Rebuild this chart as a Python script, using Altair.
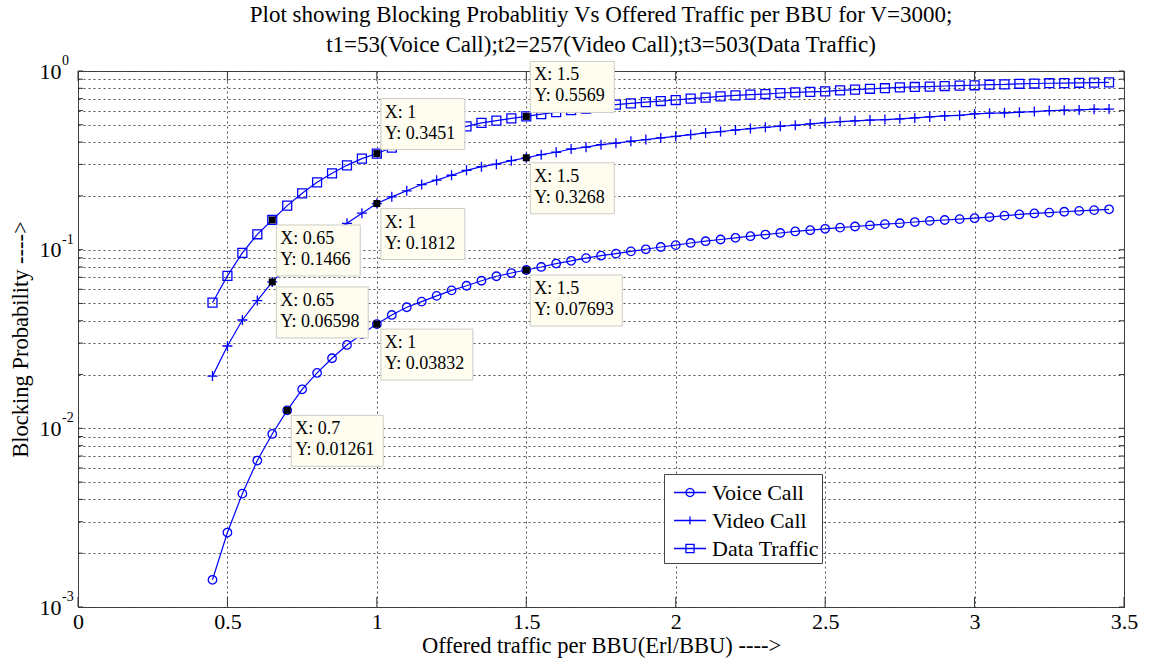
import math
import altair as alt
import pandas as pd

# ---------------- data ----------------
x_vals = [0.45, 0.50, 0.55, 0.60, 0.65, 0.70, 0.75, 0.80, 0.85, 0.90,
          0.95, 1.00, 1.05, 1.10, 1.15, 1.20, 1.25, 1.30, 1.35, 1.40,
          1.45, 1.50, 1.55, 1.60, 1.65, 1.70, 1.75, 1.80, 1.85, 1.90,
          1.95, 2.00, 2.05, 2.10, 2.15, 2.20, 2.25, 2.30, 2.35, 2.40,
          2.45, 2.50, 2.55, 2.60, 2.65, 2.70, 2.75, 2.80, 2.85, 2.90,
          2.95, 3.00, 3.05, 3.10, 3.15, 3.20, 3.25, 3.30, 3.35, 3.40,
          3.45]

voice = [0.00142, 0.00261, 0.00431, 0.00660, 0.00930, 0.01261, 0.01654, 0.02042, 0.02468, 0.02929,
         0.0337, 0.03832, 0.0431, 0.0476, 0.0512, 0.0551, 0.0592, 0.0628, 0.0670, 0.0710,
         0.0740, 0.07693, 0.0800, 0.0836, 0.0866, 0.0897, 0.0925, 0.0950, 0.0978, 0.1005,
         0.1035, 0.1060, 0.1090, 0.1115, 0.1140, 0.1165, 0.1190, 0.1215, 0.1240, 0.1265,
         0.1285, 0.1308, 0.1328, 0.1348, 0.1368, 0.1390, 0.1406, 0.1428, 0.1450, 0.1466,
         0.1482, 0.1500, 0.1522, 0.1550, 0.1575, 0.1595, 0.1612, 0.1630, 0.1648, 0.1665,
         0.1682]

video = [0.0196, 0.0289, 0.0404, 0.0519, 0.06598, 0.0800, 0.0945, 0.1095, 0.1250, 0.1405,
         0.1600, 0.1812, 0.1975, 0.2135, 0.2315, 0.2450, 0.2610, 0.2780, 0.2915, 0.3010,
         0.3150, 0.3268, 0.3400, 0.3510, 0.3660, 0.3745, 0.3870, 0.3945, 0.4045, 0.4130,
         0.4220, 0.4310, 0.4405, 0.4500, 0.4580, 0.4675, 0.4760, 0.4840, 0.4905, 0.4970,
         0.5055, 0.5145, 0.5210, 0.5260, 0.5310, 0.5350, 0.5400, 0.5465, 0.5535, 0.5605,
         0.5650, 0.5750, 0.5800, 0.5830, 0.5875, 0.5930, 0.6005, 0.6030, 0.6055, 0.6110,
         0.6120]

data_traffic = [0.0505, 0.0713, 0.0960, 0.1219, 0.1466, 0.1764, 0.2067, 0.2382, 0.2675, 0.2965,
                0.3231, 0.3451, 0.3720, 0.3970, 0.4210, 0.4440, 0.4660, 0.4900, 0.5120, 0.5280,
                0.5430, 0.5569, 0.5731, 0.5886, 0.6032, 0.6164, 0.6294, 0.6480, 0.6590, 0.6700,
                0.6790, 0.6880, 0.7000, 0.7090, 0.7210, 0.7300, 0.7370, 0.7430, 0.7530, 0.7590,
                0.7640, 0.7690, 0.7790, 0.7860, 0.7950, 0.8010, 0.8090, 0.8140, 0.8180, 0.8240,
                0.8280, 0.8320, 0.8380, 0.8410, 0.8480, 0.8510, 0.8540, 0.8560, 0.8590, 0.8610,
                0.8640]

series_names = ["Voice Call", "Video Call", "Data Traffic"]

# data tips
tip_x = [0.7, 1, 1.5, 0.65, 1, 1.5, 0.65, 1, 1.5]
tip_y = [0.01261, 0.03832, 0.07693, 0.06598, 0.1812, 0.3268, 0.1466, 0.3451, 0.5569]
tip_xlab = ["0.7", "1", "1.5", "0.65", "1", "1.5", "0.65", "1", "1.5"]
tip_ylab = ["0.01261", "0.03832", "0.07693", "0.06598", "0.1812", "0.3268", "0.1466", "0.3451", "0.5569"]
tip_above = [False, False, False, False, False, False, False, True, True]

# axes ticks
x_ticks = [0, 0.5, 1, 1.5, 2, 2.5, 3, 3.5]
y_ticks = [0.001, 0.002, 0.003, 0.004, 0.005, 0.006, 0.007, 0.008, 0.009,
           0.01, 0.02, 0.03, 0.04, 0.05, 0.06, 0.07, 0.08, 0.09,
           0.1, 0.2, 0.3, 0.4, 0.5, 0.6, 0.7, 0.8, 0.9, 1]
y_decades = [1, 0.1, 0.01, 0.001]
y_exponents = ["0", "-1", "-2", "-3"]

# ---------------- styling ----------------
FONT = "Liberation Serif"
BLUE = "#0000FF"
W, H = 1046, 536

rows = []
for name, vals in zip(series_names, [voice, video, data_traffic]):
    for xv, yv in zip(x_vals, vals):
        rows.append({"x": xv, "y": yv, "series": name})
df = pd.DataFrame(rows)

tips = pd.DataFrame({
    "tx": tip_x, "ty": tip_y,
    "label": [f"X: {a}\nY: {b}" for a, b in zip(tip_xlab, tip_ylab)],
    "wide": [len(b) > 6 for b in tip_ylab],
    "above": tip_above,
})

xscale = alt.Scale(domain=[0, 3.5], nice=False, zero=False)
yscale = alt.Scale(type="log", domain=[0.001, 1], nice=False)

x_axis = alt.Axis(values=x_ticks, format="~g", grid=True, ticks=False, domain=False,
                  labelFont=FONT, labelFontSize=22, labelColor="black", labelPadding=4,
                  labelFlush=False, labelOverlap=False,
                  title="Offered traffic per BBU(Erl/BBU) ---->", titleFont=FONT,
                  titleFontSize=22.5, titleFontWeight="normal", titleColor="black",
                  titlePadding=2,
                  gridColor="#333333", gridDash=[2, 3], gridWidth=1, gridOpacity=0.85)
y_axis = alt.Axis(values=y_ticks,
                  labelExpr="(datum.value == 1 || datum.value == 0.1 || datum.value == 0.01 || datum.value == 0.001) ? '10' : ''",
                  grid=True, ticks=False, domain=False,
                  labelFont=FONT, labelFontSize=22, labelColor="black", labelPadding=17,
                  labelFlush=False, labelOverlap=False,
                  title="Blocking Probability ---->", titleFont=FONT, titleFontSize=22.5,
                  titleFontWeight="normal", titleColor="black", titlePadding=7,
                  gridColor="#333333", gridDash=[2, 3], gridWidth=1, gridOpacity=0.85)

X = lambda f="x": alt.X(f"{f}:Q", scale=xscale, axis=x_axis)
Y = lambda f="y": alt.Y(f"{f}:Q", scale=yscale, axis=y_axis)

base = alt.Chart(df)

lines = base.mark_line(color=BLUE, strokeWidth=1.2).encode(
    x=X(), y=Y(), detail="series:N",
)

plus_path = "M-1,0H1M0,-1V1"
marker_shapes = {"Voice Call": ("circle", 72), "Video Call": (plus_path, 100), "Data Traffic": ("square", 80)}
point_layers = []
for name in series_names:
    shp, sz = marker_shapes[name]
    point_layers.append(
        base.transform_filter(alt.datum.series == name)
        .mark_point(filled=False, color=BLUE, strokeWidth=1.3, size=sz, shape=shp, opacity=1)
        .encode(x=X(), y=Y())
    )

# legend symbols (line + marker), built from a hidden layer
L0, L1 = -0.586, 1.62          # line extent, in symbol units
MC = (L0 + L1) / 2             # marker centre
MR = 0.28                      # marker half size


def poly_circle(cx, r, n=16):
    pts = [(cx + r * math.cos(2 * math.pi * k / n), r * math.sin(2 * math.pi * k / n)) for k in range(n)]
    return "M" + "L".join(f"{px:.3f},{py:.3f}" for px, py in pts) + "Z"


leg_paths = [
    f"M{L0},0H{L1}" + poly_circle(MC, MR),
    f"M{L0},0H{L1}M{MC:.3f},{-MR}V{MR}",
    f"M{L0},0H{L1}M{MC - MR:.3f},{-MR}H{MC + MR:.3f}V{MR}H{MC - MR:.3f}Z",
]
legend_layer = base.transform_filter("false").mark_point(
    filled=False, color=BLUE, strokeWidth=1.3, opacity=1
).encode(
    x=X(), y=Y(),
    shape=alt.Shape("series:N", scale=alt.Scale(domain=series_names, range=leg_paths),
                    legend=alt.Legend(orient="none", legendX=586, legendY=403, title=None,
                                      labelFont=FONT, labelFontSize=22, labelColor="black",
                                      labelExpr="datum.label + '  '",
                                      labelOffset=14, symbolSize=841, symbolStrokeWidth=1.3,
                                      symbolStrokeColor=BLUE, symbolFillColor="transparent",
                                      strokeColor="#444444", fillColor="white",
                                      padding=3, rowPadding=1, labelLimit=300)),
)

tipbase = alt.Chart(tips)
tip_marks = tipbase.mark_square(color="black", filled=True, size=49, opacity=1).encode(x=X("tx"), y=Y("ty"))

box_layers = []
for wide in (False, True):
    for above in (False, True):
        w = 92 if wide else 84
        if above:
            y0, y1 = -55, -4
        else:
            y0, y1 = 5, 56
        box_layers.append(
            tipbase.transform_filter((alt.datum.wide == wide) & (alt.datum.above == above))
            .mark_rect(fill="#FFFDF0", stroke="#CCCCC4", strokeWidth=1,
                       xOffset=4, x2Offset=4 + w, yOffset=y0, y2Offset=y1)
            .encode(x=X("tx"), x2="tx:Q", y=Y("ty"), y2="ty:Q")
        )

text_layers = []
for above in (False, True):
    dy = -50 if above else 10
    text_layers.append(
        tipbase.transform_filter(alt.datum.above == above)
        .mark_text(align="left", baseline="top", dx=8, dy=dy, font=FONT, fontSize=18,
                   lineBreak="\n", lineHeight=21, color="black")
        .encode(x=X("tx"), y=Y("ty"), text="label:N")
    )

# exponents of the y tick labels
exp_df = pd.DataFrame({"v": y_decades, "e": y_exponents})
exp_layer = alt.Chart(exp_df).mark_text(
    align="left", baseline="alphabetic", dy=-6, font=FONT, fontSize=14, color="black"
).encode(x=alt.value(-16), y=Y("v"), text="e:N")

# inward ticks (MATLAB style)
xt_df = pd.DataFrame({"t": x_ticks})
yt_df = pd.DataFrame({"t": y_ticks})
tick_col = "#333333"
xt_bottom = alt.Chart(xt_df).mark_rule(color=tick_col, strokeWidth=1).encode(
    x=X("t"), y=alt.value(H), y2=alt.value(H - 10))
xt_top = alt.Chart(xt_df).mark_rule(color=tick_col, strokeWidth=1).encode(
    x=X("t"), y=alt.value(0), y2=alt.value(10))
yt_left = alt.Chart(yt_df).mark_rule(color=tick_col, strokeWidth=1).encode(
    y=Y("t"), x=alt.value(0), x2=alt.value(5))
yt_right = alt.Chart(yt_df).mark_rule(color=tick_col, strokeWidth=1).encode(
    y=Y("t"), x=alt.value(W - 5), x2=alt.value(W))

chart = alt.layer(
    lines, *point_layers, legend_layer, tip_marks, *box_layers, *text_layers,
    exp_layer, xt_bottom, xt_top, yt_left, yt_right,
).properties(
    width=W, height=H,
    title=alt.TitleParams(
        ["Plot showing Blocking Probablitiy Vs Offered Traffic per BBU for V=3000;",
         "t1=53(Voice Call);t2=257(Video Call);t3=503(Data Traffic)"],
        font=FONT, fontSize=23, fontWeight="normal", color="black",
        lineHeight=30, anchor="middle", offset=1, dy=4,
    ),
    autosize=alt.AutoSizeParams(type="none"),
    padding={"left": 78, "top": 71, "right": 25, "bottom": 54},
    background="white",
).configure_view(stroke="#444444", strokeWidth=1)

chart.save("out.html", embed_options={"renderer": "svg", "actions": False})
